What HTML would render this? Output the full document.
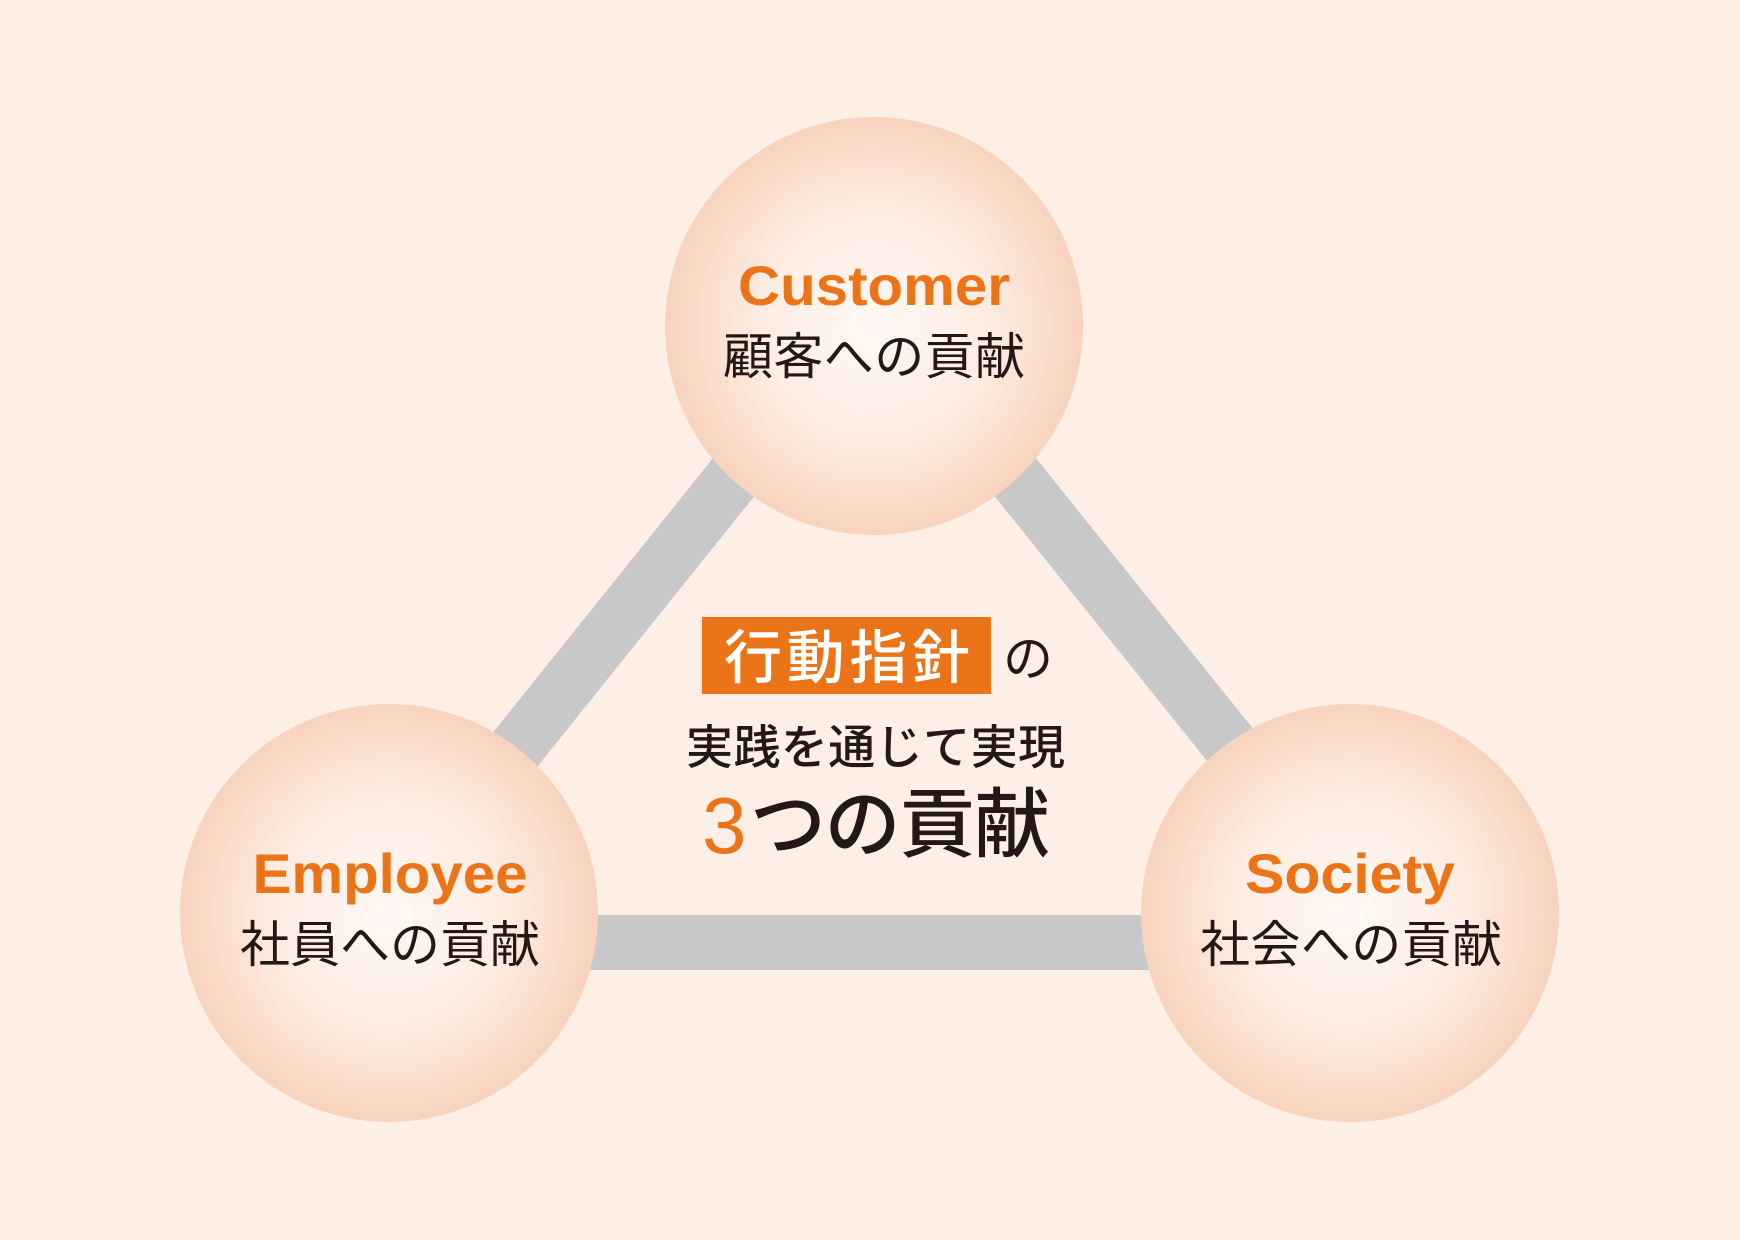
<!DOCTYPE html>
<html><head><meta charset="utf-8"><style>
html,body{margin:0;padding:0;background:#fdeee6;}
svg{display:block}
.en{font-family:"Liberation Sans",sans-serif;font-weight:bold;fill:#eb7318;}
.jp{font-family:"Liberation Sans","Noto Sans CJK JP",sans-serif;fill:#231815;}
</style></head><body>
<svg width="1740" height="1240" viewBox="0 0 1740 1240" xmlns="http://www.w3.org/2000/svg">
<defs>
<radialGradient id="g" cx="50%" cy="50%" r="50%">
<stop offset="0" stop-color="#fff8f4"/>
<stop offset="0.55" stop-color="#fdece2"/>
<stop offset="1" stop-color="#f8d3bd"/>
</radialGradient>
</defs>
<rect width="1740" height="1240" fill="#fdeee6"/>
<line x1="855" y1="326" x2="384" y2="913" stroke="#c8c8c8" stroke-width="56"/>
<line x1="894" y1="326" x2="1365" y2="913" stroke="#c8c8c8" stroke-width="56"/>
<rect x="389" y="915" width="962" height="55" fill="#c8c8c8"/>
<circle cx="874" cy="326" r="209" fill="url(#g)"/>
<circle cx="389" cy="913" r="209" fill="url(#g)"/>
<circle cx="1350" cy="913" r="209" fill="url(#g)"/>

<text class="en" x="874" y="305" font-size="56" text-anchor="middle" textLength="272" lengthAdjust="spacingAndGlyphs">Customer</text>
<text class="jp" x="723" y="374" font-size="50" textLength="302" lengthAdjust="spacing">顧客への貢献</text>

<text class="en" x="390" y="893" font-size="56" text-anchor="middle" textLength="275" lengthAdjust="spacingAndGlyphs">Employee</text>
<text class="jp" x="240" y="962" font-size="50" textLength="300" lengthAdjust="spacing">社員への貢献</text>

<text class="en" x="1350" y="893" font-size="56" text-anchor="middle" textLength="210" lengthAdjust="spacingAndGlyphs">Society</text>
<text class="jp" x="1200" y="962" font-size="50" textLength="302" lengthAdjust="spacing">社会への貢献</text>

<rect x="702" y="617" width="289" height="77" fill="#eb7318"/>
<text x="724" y="678" font-size="58" fill="#fff" font-family="Liberation Sans,'Noto Sans CJK JP',sans-serif" font-weight="500" textLength="246" lengthAdjust="spacing">行動指針</text>
<text class="jp" x="1003" y="676" font-size="50">の</text>
<text class="jp" x="686" y="764" font-size="47" font-weight="500" textLength="379" lengthAdjust="spacing">実践を通じて実現</text>
<text x="702" y="853" font-size="80" fill="#eb7318" font-family="Liberation Sans,sans-serif">3</text>
<text class="jp" x="750" y="851" font-size="76" font-weight="500" textLength="300" lengthAdjust="spacing">つの貢献</text>
</svg>
</body></html>
